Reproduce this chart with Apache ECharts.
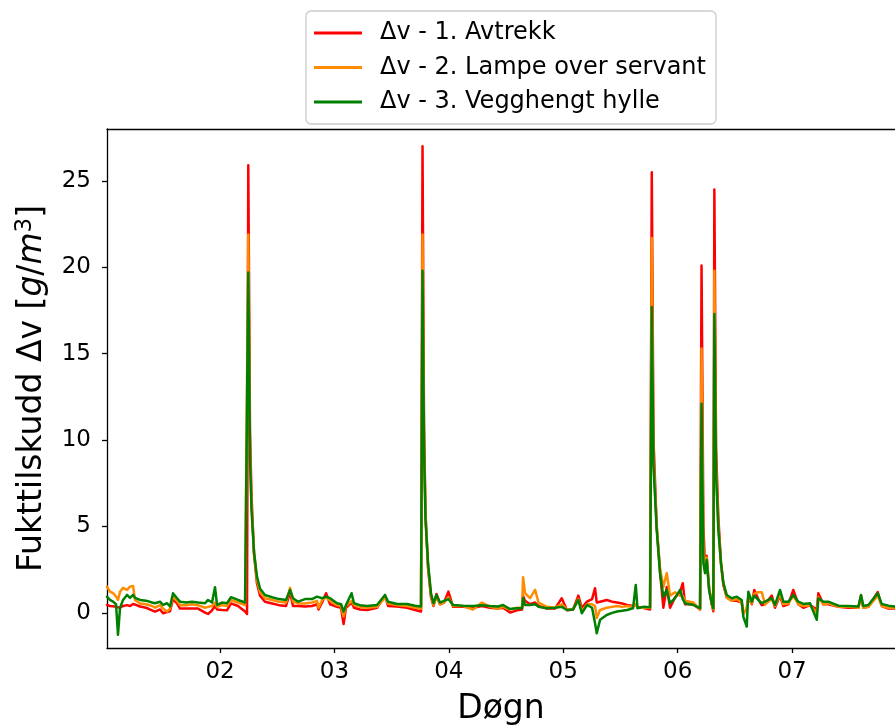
<!DOCTYPE html>
<html>
<head>
<meta charset="utf-8">
<script src="https://cdn.jsdelivr.net/npm/echarts@6/dist/echarts.min.js"></script>
<style>
html,body{margin:0;padding:0;background:#fff;}
#chart{width:895px;height:725px;}
</style>
</head>
<body>
<div id="chart"></div>
<script>
// Time axis (days)
var days = [1.012,1.038,1.065,1.091,1.108,1.126,1.152,1.187,1.213,1.240,
1.257,1.301,1.353,1.406,1.432,1.476,1.502,1.537,1.563,1.589,
1.624,1.650,1.703,1.755,1.808,1.869,1.895,1.930,1.956,1.974,
2.017,2.061,2.096,2.157,2.219,2.236,2.247,2.262,2.275,2.297,
2.323,2.350,2.393,2.455,2.516,2.577,2.612,2.638,2.682,2.743,
2.804,2.848,2.861,2.892,2.927,2.962,3.023,3.058,3.080,3.101,
3.150,3.171,3.224,3.285,3.372,3.442,3.469,3.547,3.635,3.705,
3.757,3.770,3.783,3.796,3.818,3.844,3.866,3.892,3.923,3.958,
3.996,4.037,4.124,4.212,4.290,4.360,4.430,4.474,4.535,4.596,
4.640,4.649,4.666,4.710,4.754,4.784,4.858,4.928,4.987,5.033,
5.086,5.132,5.162,5.208,5.252,5.278,5.293,5.322,5.380,5.427,
5.470,5.514,5.558,5.610,5.634,5.649,5.698,5.759,5.774,5.789,
5.817,5.846,5.875,5.905,5.934,5.977,6.021,6.045,6.065,6.137,
6.196,6.209,6.225,6.240,6.254,6.275,6.298,6.312,6.321,6.336,
6.356,6.379,6.400,6.429,6.473,6.517,6.560,6.574,6.604,6.618,
6.648,6.670,6.705,6.735,6.764,6.823,6.851,6.895,6.924,6.968,
7.011,7.055,7.099,7.157,7.216,7.230,7.274,7.317,7.405,7.492,
7.580,7.603,7.623,7.667,7.749,7.784,7.842,7.900,7.988];

// Δv - 1. Avtrekk
var avtrekk = [0.46,0.40,0.38,0.35,0.29,0.30,0.40,0.45,0.40,0.52,
0.45,0.37,0.30,0.15,0.08,0.20,-0.02,0.05,0.10,0.80,
0.55,0.25,0.25,0.25,0.25,0.02,-0.06,0.15,0.40,0.20,
0.17,0.15,0.55,0.40,0.08,-0.06,25.9,10.5,6.8,3.4,
1.7,1.0,0.65,0.55,0.45,0.40,1.2,0.40,0.40,0.37,
0.40,0.50,0.20,0.60,1.14,0.50,0.35,0.30,-0.64,0.30,
0.60,0.30,0.20,0.17,0.30,1.0,0.40,0.37,0.30,0.17,
0.08,27.0,11.0,5.8,2.6,0.9,0.40,1.1,0.50,0.60,
1.23,0.35,0.35,0.30,0.40,0.30,0.25,0.30,0.02,0.15,
0.20,1.0,0.70,0.50,0.60,0.40,0.25,0.25,0.85,0.15,
0.20,1.0,0.30,0.65,0.80,1.43,0.60,0.65,0.75,0.65,
0.60,0.55,0.46,0.40,0.50,0.35,0.30,0.20,25.5,10.0,
5.0,2.4,0.30,1.5,0.30,0.90,1.2,1.72,0.50,0.50,
0.20,20.1,5.0,2.6,3.3,1.4,0.50,0.10,24.5,9.5,
5.5,2.9,1.6,0.90,0.70,0.70,0.60,0.0,0.20,0.90,
0.50,1.33,0.80,0.45,0.50,1.0,0.30,1.0,0.40,0.50,
1.33,0.50,0.30,0.45,0.20,1.14,0.50,0.50,0.35,0.30,
0.30,1.0,0.30,0.35,1.2,0.40,0.25,0.25,0.30];

// Δv - 2. Lampe over servant
var lampe = [1.52,1.23,1.14,0.95,0.75,1.23,1.45,1.33,1.52,1.56,
0.75,0.55,0.50,0.40,0.30,0.45,0.25,0.08,0.25,0.95,
0.70,0.45,0.45,0.50,0.45,0.30,0.35,0.40,0.60,0.35,
0.45,0.40,0.75,0.60,0.45,0.35,21.9,9.5,6.3,3.6,
1.9,1.2,0.85,0.75,0.65,0.60,1.45,0.65,0.55,0.55,
0.60,0.70,0.30,0.75,0.90,0.70,0.45,0.40,-0.20,0.40,
0.70,0.45,0.35,0.30,0.35,0.90,0.55,0.45,0.40,0.30,
0.25,21.9,10.0,5.6,2.8,1.0,0.45,0.90,0.50,0.60,
0.90,0.40,0.40,0.20,0.60,0.35,0.25,0.35,0.20,0.30,
0.30,2.07,1.14,0.85,1.33,0.60,0.35,0.30,0.50,0.20,
0.20,0.80,0.10,0.50,0.50,0.40,-0.30,0.17,0.30,0.35,
0.40,0.35,0.40,0.35,0.50,0.30,0.30,0.30,21.7,9.0,
5.0,2.6,1.5,2.3,1.0,1.2,1.0,1.0,0.70,0.60,
0.20,15.3,4.0,2.5,3.2,1.5,0.50,0.20,19.8,8.5,
5.0,2.8,1.7,0.90,0.70,0.80,0.60,-0.10,0.30,1.0,
0.55,1.1,1.2,1.2,0.50,0.80,0.40,1.1,0.50,0.55,
1.0,0.50,0.40,0.45,0.0,0.90,0.50,0.55,0.35,0.35,
0.30,0.90,0.30,0.35,1.0,0.40,0.30,0.30,0.30];

// Δv - 3. Vegghengt hylle
var hylle = [0.94,0.75,0.65,0.50,-1.27,0.29,0.75,1.04,0.87,1.04,
0.87,0.75,0.71,0.60,0.56,0.65,0.46,0.56,0.37,1.14,
0.85,0.65,0.60,0.65,0.60,0.56,0.75,0.60,1.49,0.46,
0.60,0.56,0.91,0.75,0.60,0.50,19.7,9.0,6.0,3.5,
2.1,1.4,1.04,0.91,0.80,0.75,1.33,0.85,0.65,0.80,
0.80,0.94,1.05,0.85,0.94,0.85,0.56,0.50,0.08,0.45,
1.14,0.56,0.45,0.40,0.46,1.04,0.65,0.52,0.52,0.42,
0.37,19.8,9.5,5.4,2.9,1.14,0.56,1.04,0.60,0.70,
0.80,0.46,0.42,0.40,0.45,0.40,0.37,0.46,0.22,0.27,
0.27,0.85,0.46,0.46,0.50,0.35,0.27,0.30,0.35,0.17,
0.20,0.75,-0.02,0.46,0.30,-0.60,-1.18,-0.40,-0.12,0.00,
0.08,0.12,0.17,0.27,1.62,0.27,0.35,0.33,17.7,8.5,
4.8,2.3,0.94,1.33,0.56,0.85,1.33,0.80,0.56,0.46,
0.27,12.1,2.88,2.3,3.07,1.33,0.56,0.27,17.3,8.0,
4.8,2.88,1.72,1.04,0.85,0.94,0.75,-0.21,-0.79,1.23,
0.65,1.0,0.75,0.56,0.65,0.85,0.46,1.33,0.65,0.65,
1.04,0.65,0.52,0.56,-0.40,0.85,0.65,0.65,0.42,0.40,
0.37,1.04,0.40,0.46,1.14,0.52,0.42,0.37,0.40];

var seriesNames = ['Δv - 1. Avtrekk', 'Δv - 2. Lampe over servant', 'Δv - 3. Vegghengt hylle'];
var seriesColors = ['#ff0000', '#ff8c00', '#008000'];
var xTickValues = [2, 3, 4, 5, 6, 7];
var xTickLabels = ['02', '03', '04', '05', '06', '07'];
var yTickValues = [0, 5, 10, 15, 20, 25];

function pairs(vals) { return days.map(function (d, i) { return [d, vals[i]]; }); }
var allValues = [avtrekk, lampe, hylle];

var FONT = 'DejaVu Sans';
var X_MIN = 1.012, X_MAX = 7.900;
var chart = echarts.init(document.getElementById('chart'), null, {renderer: 'canvas'});
chart.setOption({
  animation: false,
  backgroundColor: '#ffffff',
  textStyle: {fontFamily: FONT},
  grid: {left: 107, top: 129, width: 788, height: 519, show: false, containLabel: false, outerBoundsMode: 'none'},
  legend: {
    orient: 'vertical',
    left: 306, top: 11,
    padding: [10, 10, 10, 8],
    itemWidth: 48, itemHeight: 3, itemGap: 10.5,
    icon: 'rect',
    backgroundColor: 'rgba(255,255,255,0.8)',
    borderColor: '#cccccc', borderWidth: 1.3, borderRadius: 5,
    textStyle: {fontFamily: FONT, fontSize: 24, color: '#000', lineHeight: 24, padding: [0, 0, 0, 13]},
    data: seriesNames
  },
  xAxis: [{
    type: 'value', min: X_MIN, max: X_MAX,
    name: 'Døgn', nameLocation: 'middle', nameGap: 45,
    nameTextStyle: {fontFamily: FONT, fontSize: 33, color: '#000'},
    axisLine: {show: true, onZero: false, lineStyle: {color: '#000', width: 1.3}},
    axisTick: {show: true, length: 5, customValues: xTickValues, lineStyle: {color: '#000', width: 1.3}},
    axisLabel: {
      customValues: xTickValues, margin: 13,
      fontFamily: FONT, fontSize: 23, color: '#000',
      formatter: function (v) { var i = xTickValues.indexOf(Math.round(v)); return i >= 0 ? xTickLabels[i] : ''; }
    },
    splitLine: {show: false}
  }, {
    type: 'value', min: X_MIN, max: X_MAX, position: 'top',
    axisLine: {show: true, onZero: false, lineStyle: {color: '#000', width: 1.3}},
    axisTick: {show: false}, axisLabel: {show: false}, splitLine: {show: false}
  }],
  yAxis: {
    type: 'value', min: -2.03, max: 28.0,
    name: '{n|Fukttilskudd Δv [}{i|g}{n|/}{i|m}{s|3}{n|]}',
    nameLocation: 'middle', nameGap: 56,
    nameTextStyle: {
      fontFamily: FONT, fontSize: 33, color: '#000',
      rich: {
        n: {fontFamily: FONT, fontSize: 33, color: '#000', lineHeight: 37},
        i: {fontFamily: FONT, fontSize: 33, color: '#000', fontStyle: 'italic', lineHeight: 37},
        s: {fontFamily: FONT, fontSize: 23, color: '#000', verticalAlign: 'top', lineHeight: 37, padding: [0, 0, 14, 0]}
      }
    },
    axisLine: {show: true, onZero: false, lineStyle: {color: '#000', width: 1.3}},
    axisTick: {show: true, length: 5, customValues: yTickValues, lineStyle: {color: '#000', width: 1.3}},
    axisLabel: {customValues: yTickValues, margin: 16, fontFamily: FONT, fontSize: 23, color: '#000'},
    splitLine: {show: false}
  },
  series: seriesNames.map(function (n, k) {
    return {
      name: n, type: 'line', data: pairs(allValues[k]), xAxisIndex: 0,
      showSymbol: false, symbol: 'none', smooth: false,
      color: seriesColors[k],
      lineStyle: {color: seriesColors[k], width: 2.5, cap: 'round', join: 'round'},
      z: 2 + k
    };
  })
});
</script>
</body>
</html>
